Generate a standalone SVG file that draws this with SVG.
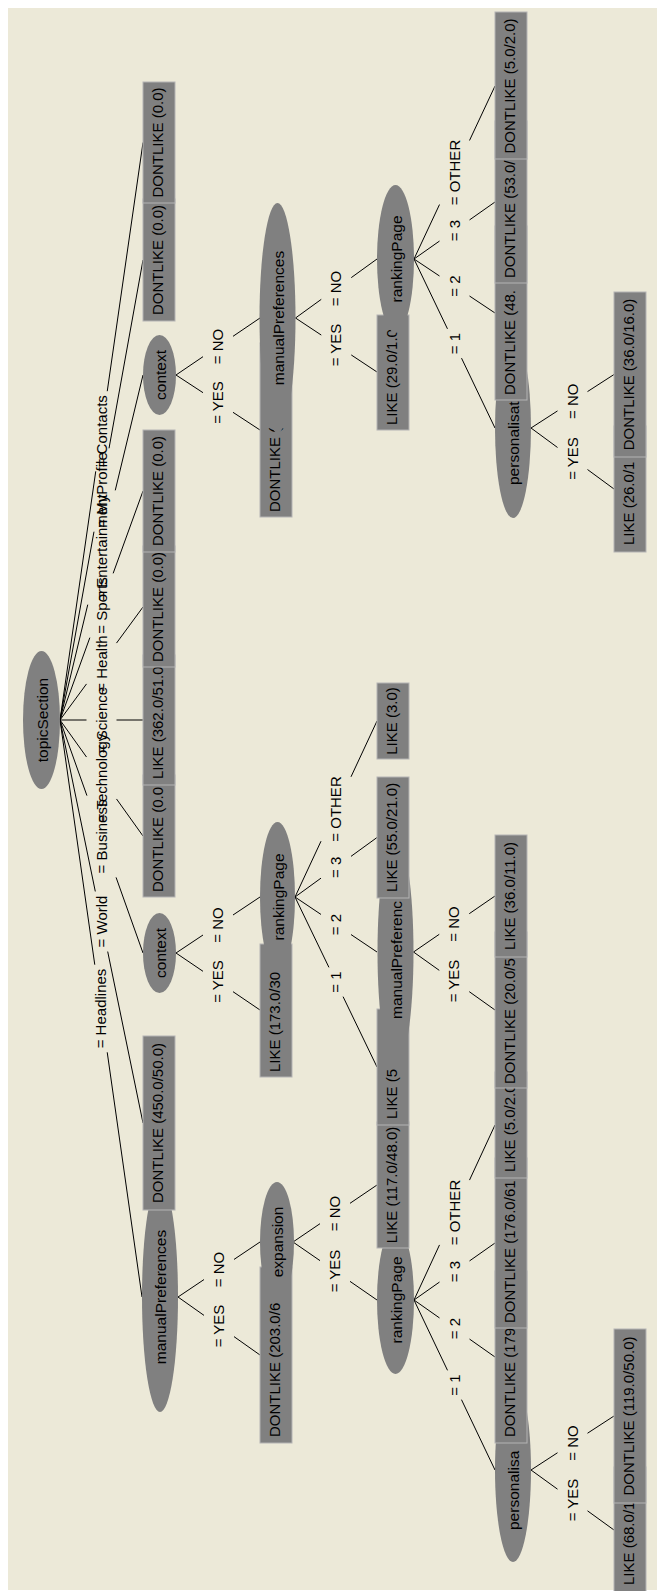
<svg xmlns="http://www.w3.org/2000/svg" width="657" height="1591" viewBox="0 0 657 1591">
<style>
.bg{fill:#ECE9D8}
.el{fill:#808080}
.bx{fill:#808080;stroke:#b4b4b4;stroke-width:1}
.t{font-family:"Liberation Sans",Arial,sans-serif;font-size:15px;fill:#000}
.et{font-size:15.5px}
.m{text-anchor:middle}
.cn path{fill:none;stroke:#000;stroke-width:1}
</style>
<rect x="0" y="0" width="657" height="1591" fill="#ffffff"/>
<rect class="bg" x="8" y="8" width="649" height="1582"/>

<g id="connectors" class="cn">
<path d="M60,720 L95.74,471.3 M107.26,391.2 L143,142.5"/>
<path d="M60,720 L93.98,531.7 M109.02,448.3 L143,260"/>
<path d="M60,720 L87.75,604.65 M115.25,490.35 L143,375"/>
<path d="M60,720 L89.85,637.65 M113.15,573.35 L143,491"/>
<path d="M60,720 L86.5,683.92 M116.5,643.08 L143,607"/>
<path d="M60,720 L86.5,720 M116.5,720 L143,720"/>
<path d="M60,720 L86.5,757.04 M116.5,798.96 L143,836"/>
<path d="M60,720 L86.93,795.61 M116.07,877.39 L143,953"/>
<path d="M60,720 L95.31,891.45 M107.69,951.55 L143,1123"/>
<path d="M60,720 L94.78,964.7 M107.22,1052.3 L142,1297"/>
<path d="M176,375 L203,392.68 M233,412.32 L260,430"/>
<path d="M176,375 L203,356.68 M233,336.32 L260,318"/>
<path d="M295.5,318 L321.25,335.06 M351.25,354.94 L377,372"/>
<path d="M295.5,318 L321.25,299.36 M351.25,277.64 L377,259"/>
<path d="M414,259 L447.48,328.85 M461.52,358.15 L495,428"/>
<path d="M414,259 L439.5,276 M469.5,296 L495,313"/>
<path d="M414,259 L439.5,241.06 M469.5,219.94 L495,202"/>
<path d="M414,259 L439.5,204.54 M469.5,140.46 L495,86"/>
<path d="M531,428 L557.5,447.48 M587.5,469.52 L614,489"/>
<path d="M531,428 L557.5,410.92 M587.5,391.58 L614,374.5"/>
<path d="M176,953 L203,971.32 M233,991.68 L260,1010"/>
<path d="M176,953 L203,935 M233,915 L260,897"/>
<path d="M295,897 L328.93,967.35 M343.07,996.65 L377,1067"/>
<path d="M295,897 L321,914.44 M351,934.56 L377,952"/>
<path d="M295,897 L321,878.13 M351,856.37 L377,837.5"/>
<path d="M295,897 L321,841.19 M351,776.81 L377,721"/>
<path d="M413.5,952 L439.25,970.33 M469.25,991.67 L495,1010"/>
<path d="M413.5,952 L439.25,934.3 M469.25,913.7 L495,896"/>
<path d="M178,1297 L204,1315.39 M234,1336.61 L260,1355"/>
<path d="M178,1297 L204,1279.56 M234,1259.44 L260,1242"/>
<path d="M293,1242 L320,1260.64 M350,1281.36 L377,1300"/>
<path d="M293,1242 L320,1223.68 M350,1203.32 L377,1185"/>
<path d="M414,1300 L447.52,1370.35 M461.48,1399.65 L495,1470"/>
<path d="M414,1300 L439.5,1317.94 M469.5,1339.06 L495,1357"/>
<path d="M414,1300 L439.5,1282.06 M469.5,1260.94 L495,1243"/>
<path d="M414,1300 L439.5,1244.91 M469.5,1180.09 L495,1125"/>
<path d="M531,1470 L557.5,1489.16 M587.5,1510.84 L614,1530"/>
<path d="M531,1470 L557.5,1452.76 M587.5,1433.24 L614,1416"/>
</g>

<g id="edge-labels" class="t m">
<text transform="translate(106.5,431.25) rotate(-90)">= Contacts</text>
<text transform="translate(106.5,490) rotate(-90)">= MyProfile</text>
<text transform="translate(106.5,547.5) rotate(-90)">= Entertainment</text>
<text transform="translate(106.5,605.5) rotate(-90)">= Sports</text>
<text transform="translate(106.5,663.5) rotate(-90)">= Health</text>
<text transform="translate(106.5,720) rotate(-90)">= Science</text>
<text transform="translate(106.5,778) rotate(-90)">= Technology</text>
<text transform="translate(106.5,836.5) rotate(-90)">= Business</text>
<text transform="translate(106.5,921.5) rotate(-90)">= World</text>
<text transform="translate(106,1008.5) rotate(-90)">= Headlines</text>
<text transform="translate(223,402.5) rotate(-90)">= YES</text>
<text transform="translate(223,346.5) rotate(-90)">= NO</text>
<text transform="translate(223,981.5) rotate(-90)">= YES</text>
<text transform="translate(223,925) rotate(-90)">= NO</text>
<text transform="translate(224,1326) rotate(-90)">= YES</text>
<text transform="translate(224,1269.5) rotate(-90)">= NO</text>
<text transform="translate(341.25,345) rotate(-90)">= YES</text>
<text transform="translate(341.25,288.5) rotate(-90)">= NO</text>
<text transform="translate(341,982) rotate(-90)">= 1</text>
<text transform="translate(341,924.5) rotate(-90)">= 2</text>
<text transform="translate(341,867.25) rotate(-90)">= 3</text>
<text transform="translate(341,809) rotate(-90)">= OTHER</text>
<text transform="translate(340,1271) rotate(-90)">= YES</text>
<text transform="translate(340,1213.5) rotate(-90)">= NO</text>
<text transform="translate(459.5,343.5) rotate(-90)">= 1</text>
<text transform="translate(459.5,286) rotate(-90)">= 2</text>
<text transform="translate(459.5,230.5) rotate(-90)">= 3</text>
<text transform="translate(459.5,172.5) rotate(-90)">= OTHER</text>
<text transform="translate(459.25,981) rotate(-90)">= YES</text>
<text transform="translate(459.25,924) rotate(-90)">= NO</text>
<text transform="translate(459.5,1385) rotate(-90)">= 1</text>
<text transform="translate(459.5,1328.5) rotate(-90)">= 2</text>
<text transform="translate(459.5,1271.5) rotate(-90)">= 3</text>
<text transform="translate(459.5,1212.5) rotate(-90)">= OTHER</text>
<text transform="translate(577.5,458.5) rotate(-90)">= YES</text>
<text transform="translate(577.5,401.25) rotate(-90)">= NO</text>
<text transform="translate(577.5,1500) rotate(-90)">= YES</text>
<text transform="translate(577.5,1443) rotate(-90)">= NO</text>
</g>

<g id="n-root"><ellipse class="el" cx="41.5" cy="720" rx="18.5" ry="69"/><text class="t et m" transform="translate(47.5,720) rotate(-90)">topicSection</text></g>

<g id="n-J"><ellipse class="el" cx="160" cy="1297" rx="18" ry="115"/><text class="t et m" transform="translate(166,1297) rotate(-90)">manualPreferences</text></g>
<g id="n-J-yes"><rect class="bx" x="260" y="1267" width="32" height="176"/><text class="t" transform="translate(280,1437) rotate(-90)">DONTLIKE (203.0/6</text></g>
<g id="n-J-exp"><ellipse class="el" cx="277" cy="1242" rx="17" ry="60"/><text class="t et m" transform="translate(283,1242) rotate(-90)">expansion</text></g>
<g id="n-J-rp"><ellipse class="el" cx="395.5" cy="1300" rx="18.5" ry="74"/><text class="t et m" transform="translate(401.5,1300) rotate(-90)">rankingPage</text></g>
<g id="n-J-pers"><ellipse class="el" cx="513" cy="1470" rx="18" ry="92"/><text class="t et" transform="translate(519,1530) rotate(-90)">personalisa</text></g>
<g id="n-J-like68"><rect class="bx" x="614" y="1467" width="32" height="126"/><text class="t" transform="translate(634,1585) rotate(-90)">LIKE (68.0/1</text></g>
<g id="n-J-dl119"><rect class="bx" x="614" y="1329" width="32" height="174"/><text class="t m" transform="translate(634,1416) rotate(-90)">DONTLIKE (119.0/50.0)</text></g>
<g id="n-J-dl179"><rect class="bx" x="495" y="1271" width="32" height="172"/><text class="t" transform="translate(515,1437) rotate(-90)">DONTLIKE (179</text></g>
<g id="n-J-dl176"><rect class="bx" x="495" y="1158" width="32" height="170"/><text class="t" transform="translate(515,1323) rotate(-90)">DONTLIKE (176.0/61</text></g>
<g id="n-J-like5"><rect class="bx" x="495" y="1072" width="32" height="106"/><text class="t" transform="translate(515,1172) rotate(-90)">LIKE (5.0/2.0</text></g>
<g id="n-J-like117"><rect class="bx" x="377" y="1122" width="32" height="126"/><text class="t m" transform="translate(397,1185) rotate(-90)">LIKE (117.0/48.0)</text></g>

<g id="n-I"><rect class="bx" x="143" y="1036" width="32" height="174"/><text class="t m" transform="translate(163,1123) rotate(-90)">DONTLIKE (450.0/50.0)</text></g>

<g id="n-H"><ellipse class="el" cx="159.5" cy="953" rx="16.5" ry="40"/><text class="t et m" transform="translate(165.5,953) rotate(-90)">context</text></g>
<g id="n-H-like173"><rect class="bx" x="260" y="944" width="32" height="133"/><text class="t" transform="translate(280,1072) rotate(-90)">LIKE (173.0/30</text></g>
<g id="n-H-rp"><ellipse class="el" cx="277.5" cy="897" rx="17.5" ry="75"/><text class="t et m" transform="translate(283.5,897) rotate(-90)">rankingPage</text></g>
<g id="n-H-like5x"><rect class="bx" x="377" y="1009" width="32" height="116"/><text class="t" transform="translate(397,1119) rotate(-90)">LIKE (5</text></g>
<g id="n-H-mp"><ellipse class="el" cx="395.5" cy="952" rx="18" ry="115"/><text class="t et" transform="translate(401.5,1019) rotate(-90)">manualPreferenc</text></g>
<g id="n-H-dl20"><rect class="bx" x="495" y="932" width="32" height="156"/><text class="t" transform="translate(515,1084) rotate(-90)">DONTLIKE (20.0/5</text></g>
<g id="n-H-like36"><rect class="bx" x="495" y="835" width="32" height="122"/><text class="t m" transform="translate(515,896) rotate(-90)">LIKE (36.0/11.0)</text></g>
<g id="n-H-like55"><rect class="bx" x="377" y="777" width="32" height="121"/><text class="t m" transform="translate(397,837.5) rotate(-90)">LIKE (55.0/21.0)</text></g>
<g id="n-H-like3"><rect class="bx" x="377" y="683" width="32" height="76"/><text class="t m" transform="translate(397,721) rotate(-90)">LIKE (3.0)</text></g>

<g id="n-G"><rect class="bx" x="143" y="775" width="32" height="122"/><text class="t" transform="translate(163,892) rotate(-90)">DONTLIKE (0.0</text></g>
<g id="n-F"><rect class="bx" x="143" y="655" width="32" height="130"/><text class="t" transform="translate(163,779) rotate(-90)">LIKE (362.0/51.0</text></g>
<g id="n-E"><rect class="bx" x="143" y="546" width="32" height="121"/><text class="t m" transform="translate(163,607) rotate(-90)">DONTLIKE (0.0)</text></g>
<g id="n-D"><rect class="bx" x="143" y="430" width="32" height="122"/><text class="t m" transform="translate(163,491) rotate(-90)">DONTLIKE (0.0)</text></g>

<g id="n-C"><ellipse class="el" cx="159.5" cy="375" rx="16.5" ry="40"/><text class="t et m" transform="translate(165.5,375) rotate(-90)">context</text></g>
<g id="n-C-dl"><rect class="bx" x="260" y="343" width="32" height="174"/><text class="t" transform="translate(280,512) rotate(-90)">DONTLIKE (</text></g>
<g id="n-C-mp"><ellipse class="el" cx="277.5" cy="318" rx="18" ry="115"/><text class="t et m" transform="translate(283.5,318) rotate(-90)">manualPreferences</text></g>
<g id="n-C-like29"><rect class="bx" x="377" y="315" width="32" height="115"/><text class="t" transform="translate(397,425) rotate(-90)">LIKE (29.0/1.0</text></g>
<g id="n-C-rp"><ellipse class="el" cx="395.5" cy="259" rx="18.5" ry="74"/><text class="t et m" transform="translate(401.5,259) rotate(-90)">rankingPage</text></g>
<g id="n-C-pers"><ellipse class="el" cx="513" cy="428" rx="18" ry="90"/><text class="t et" transform="translate(519,485) rotate(-90)">personalisat</text></g>
<g id="n-C-like26"><rect class="bx" x="614" y="426" width="32" height="126"/><text class="t" transform="translate(634,545) rotate(-90)">LIKE (26.0/1</text></g>
<g id="n-C-dl36"><rect class="bx" x="614" y="292" width="32" height="165"/><text class="t m" transform="translate(634,374.5) rotate(-90)">DONTLIKE (36.0/16.0)</text></g>
<g id="n-C-dl48"><rect class="bx" x="495" y="226" width="32" height="174"/><text class="t" transform="translate(515,395) rotate(-90)">DONTLIKE (48.</text></g>
<g id="n-C-dl53"><rect class="bx" x="495" y="121" width="32" height="162"/><text class="t" transform="translate(515,278) rotate(-90)">DONTLIKE (53.0/</text></g>
<g id="n-C-dl5"><rect class="bx" x="495" y="12" width="32" height="147"/><text class="t m" transform="translate(515,86) rotate(-90)">DONTLIKE (5.0/2.0)</text></g>

<g id="n-B"><rect class="bx" x="143" y="199" width="32" height="122"/><text class="t m" transform="translate(163,260) rotate(-90)">DONTLIKE (0.0)</text></g>
<g id="n-A"><rect class="bx" x="143" y="82" width="32" height="121"/><text class="t m" transform="translate(163,142.5) rotate(-90)">DONTLIKE (0.0)</text></g>
</svg>
